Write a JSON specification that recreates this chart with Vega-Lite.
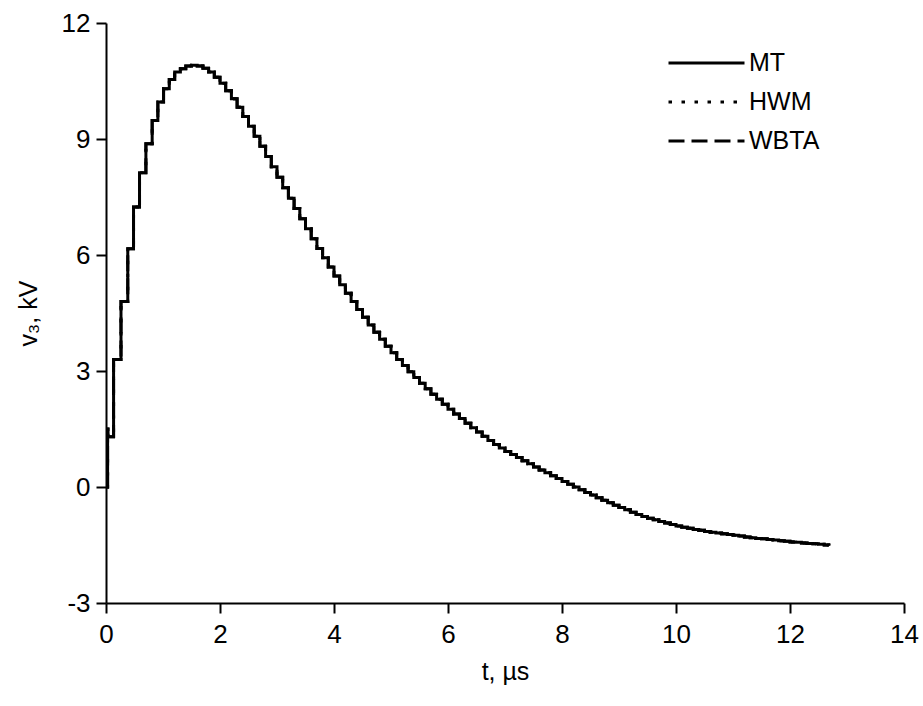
{
  "$schema": "https://vega.github.io/schema/vega-lite/v6.json",
  "width": 798,
  "height": 580,
  "autosize": {"type": "none"},
  "padding": {"left": 106, "top": 23, "right": 19, "bottom": 103},
  "background": "white",
  "config": {
    "view": {"stroke": null},
    "font": "Liberation Sans",
    "axis": {
      "domainColor": "black", "domainWidth": 2, "tickColor": "black", "tickWidth": 2,
      "tickSize": 10, "labelColor": "black", "labelFontSize": 26, "labelFont": "Liberation Sans",
      "titleColor": "black", "titleFontSize": 25, "titleFontWeight": "normal", "titleFont": "Liberation Sans",
      "grid": false, "labelFlush": false, "labelOverlap": false,
      "labelExpr": "replace(datum.label, '−', '-')"
    }
  },
  "datasets": {
    "v3": [
      {"t": 0, "v": 0}, {"t": 0.028, "v": 1.5}, {"t": 0.035, "v": 1.3}, {"t": 0.133, "v": 3.3},
      {"t": 0.263, "v": 4.8}, {"t": 0.382, "v": 6.16}, {"t": 0.483, "v": 7.24}, {"t": 0.588, "v": 8.13},
      {"t": 0.70, "v": 8.88}, {"t": 0.81, "v": 9.48}, {"t": 0.91, "v": 9.96}, {"t": 1.01, "v": 10.30},
      {"t": 1.11, "v": 10.54}, {"t": 1.205, "v": 10.73}, {"t": 1.305, "v": 10.82}, {"t": 1.40, "v": 10.89},
      {"t": 1.5, "v": 10.91}, {"t": 1.6, "v": 10.89}, {"t": 1.7, "v": 10.83}, {"t": 1.8, "v": 10.73},
      {"t": 1.9, "v": 10.60}, {"t": 2.0, "v": 10.44}, {"t": 2.1, "v": 10.25}, {"t": 2.2, "v": 10.04},
      {"t": 2.3, "v": 9.82}, {"t": 2.4, "v": 9.58}, {"t": 2.5, "v": 9.33}, {"t": 2.6, "v": 9.07},
      {"t": 2.7, "v": 8.81}, {"t": 2.8, "v": 8.55}, {"t": 2.9, "v": 8.28}, {"t": 3.0, "v": 8.01},
      {"t": 3.1, "v": 7.74}, {"t": 3.2, "v": 7.47}, {"t": 3.3, "v": 7.20}, {"t": 3.4, "v": 6.94},
      {"t": 3.5, "v": 6.68}, {"t": 3.6, "v": 6.42}, {"t": 3.7, "v": 6.17}, {"t": 3.8, "v": 5.93},
      {"t": 3.9, "v": 5.69}, {"t": 4.0, "v": 5.46}, {"t": 4.1, "v": 5.23}, {"t": 4.2, "v": 5.01},
      {"t": 4.3, "v": 4.80}, {"t": 4.4, "v": 4.59}, {"t": 4.5, "v": 4.39}, {"t": 4.6, "v": 4.19},
      {"t": 4.7, "v": 4.00}, {"t": 4.8, "v": 3.82}, {"t": 4.9, "v": 3.64}, {"t": 5.0, "v": 3.47},
      {"t": 5.1, "v": 3.30}, {"t": 5.2, "v": 3.14}, {"t": 5.3, "v": 2.98}, {"t": 5.4, "v": 2.83},
      {"t": 5.5, "v": 2.68}, {"t": 5.6, "v": 2.54}, {"t": 5.7, "v": 2.40}, {"t": 5.8, "v": 2.27},
      {"t": 5.9, "v": 2.14}, {"t": 6.0, "v": 2.01}, {"t": 6.1, "v": 1.89}, {"t": 6.2, "v": 1.77},
      {"t": 6.3, "v": 1.65}, {"t": 6.4, "v": 1.53}, {"t": 6.5, "v": 1.42}, {"t": 6.6, "v": 1.31},
      {"t": 6.7, "v": 1.20}, {"t": 6.8, "v": 1.10}, {"t": 6.9, "v": 1.01}, {"t": 7.0, "v": 0.92},
      {"t": 7.1, "v": 0.84}, {"t": 7.2, "v": 0.76}, {"t": 7.3, "v": 0.68}, {"t": 7.4, "v": 0.60},
      {"t": 7.5, "v": 0.52}, {"t": 7.6, "v": 0.44}, {"t": 7.7, "v": 0.37}, {"t": 7.8, "v": 0.29},
      {"t": 7.9, "v": 0.22}, {"t": 8.0, "v": 0.14}, {"t": 8.1, "v": 0.07}, {"t": 8.2, "v": 0.00},
      {"t": 8.3, "v": -0.07}, {"t": 8.4, "v": -0.14}, {"t": 8.5, "v": -0.21}, {"t": 8.6, "v": -0.28},
      {"t": 8.7, "v": -0.34}, {"t": 8.8, "v": -0.41}, {"t": 8.9, "v": -0.47}, {"t": 9.0, "v": -0.53},
      {"t": 9.1, "v": -0.59}, {"t": 9.2, "v": -0.65}, {"t": 9.3, "v": -0.71}, {"t": 9.4, "v": -0.76},
      {"t": 9.5, "v": -0.81}, {"t": 9.6, "v": -0.85}, {"t": 9.7, "v": -0.89}, {"t": 9.8, "v": -0.93},
      {"t": 9.9, "v": -0.97}, {"t": 10.0, "v": -1.01}, {"t": 10.1, "v": -1.04}, {"t": 10.2, "v": -1.07},
      {"t": 10.3, "v": -1.10}, {"t": 10.4, "v": -1.12}, {"t": 10.5, "v": -1.15}, {"t": 10.6, "v": -1.17},
      {"t": 10.7, "v": -1.19}, {"t": 10.8, "v": -1.21}, {"t": 10.9, "v": -1.23}, {"t": 11.0, "v": -1.25},
      {"t": 11.1, "v": -1.27}, {"t": 11.2, "v": -1.29}, {"t": 11.3, "v": -1.31}, {"t": 11.4, "v": -1.33},
      {"t": 11.5, "v": -1.34}, {"t": 11.6, "v": -1.36}, {"t": 11.7, "v": -1.37}, {"t": 11.8, "v": -1.39},
      {"t": 11.9, "v": -1.40}, {"t": 12.0, "v": -1.42}, {"t": 12.1, "v": -1.43}, {"t": 12.2, "v": -1.45},
      {"t": 12.3, "v": -1.46}, {"t": 12.4, "v": -1.47}, {"t": 12.5, "v": -1.48}, {"t": 12.6, "v": -1.50},
      {"t": 12.68, "v": -1.51}
    ]
  },
  "encoding": {
    "x": {
      "field": "t", "type": "quantitative",
      "scale": {"domain": [0, 14], "nice": false, "zero": false},
      "axis": {"values": [0, 2, 4, 6, 8, 10, 12, 14], "title": "t, µs", "labelPadding": 8, "titlePadding": 12}
    },
    "y": {
      "field": "v", "type": "quantitative",
      "scale": {"domain": [-3, 12], "nice": false, "zero": false},
      "axis": {"values": [-3, 0, 3, 6, 9, 12], "title": "v₃, kV", "labelPadding": 6, "titlePadding": 20}
    }
  },
  "layer": [
    {
      "data": {"name": "v3"},
      "mark": {"type": "line", "interpolate": "step-after", "color": "black", "strokeWidth": 3},
      "encoding": {
        "strokeDash": {
          "datum": "MT", "type": "nominal",
          "scale": {"domain": ["MT", "HWM", "WBTA"], "range": [[1, 0], [3.5, 9.5], [16, 7]]},
          "legend": {
            "title": null, "orient": "none", "legendX": 561, "legendY": 28,
            "symbolType": "stroke", "symbolSize": 5776, "symbolStrokeWidth": 2.8,
            "symbolStrokeColor": "black", "labelFontSize": 25, "labelColor": "black",
            "labelFont": "Liberation Sans", "labelOffset": 3, "rowPadding": 14, "clipHeight": 24
          }
        }
      }
    },
    {
      "data": {"name": "v3"},
      "mark": {"type": "line", "interpolate": "step-after", "color": "black", "strokeWidth": 3},
      "encoding": {"strokeDash": {"datum": "HWM", "type": "nominal"}}
    },
    {
      "data": {"name": "v3"},
      "mark": {"type": "line", "interpolate": "step-after", "color": "black", "strokeWidth": 3},
      "encoding": {"strokeDash": {"datum": "WBTA", "type": "nominal"}}
    }
  ]
}
